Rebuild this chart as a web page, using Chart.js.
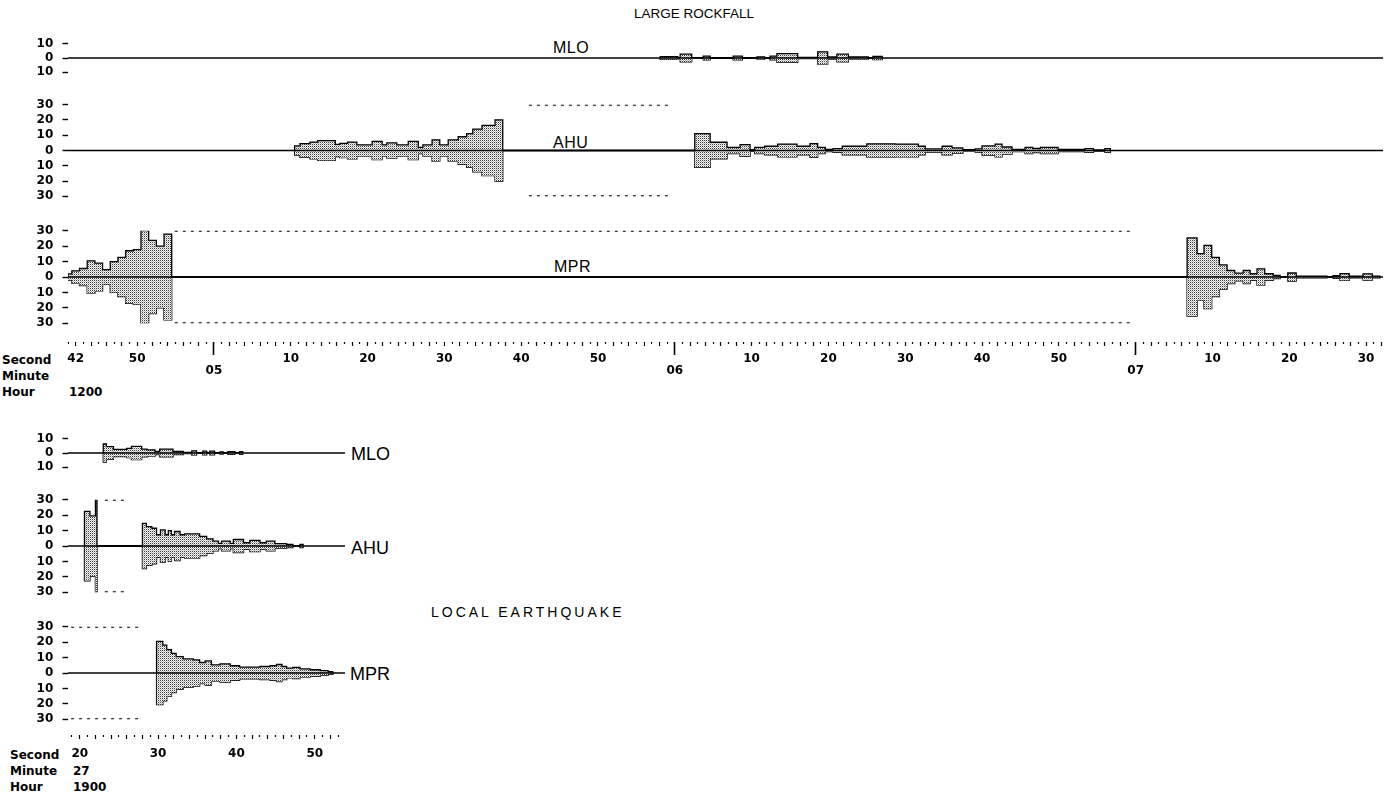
<!DOCTYPE html>
<html>
<head>
<meta charset="utf-8">
<script src="https://cdn.jsdelivr.net/npm/chart.js@4.4.1/dist/chart.umd.min.js"></script>
<style>
  body { margin: 0; background: #fff; }
  #page { position: relative; width: 1387px; height: 796px; overflow: hidden; background: #fff; }
  canvas { position: absolute; left: 0; }
  .lbl { position: absolute; white-space: nowrap; line-height: 1; color: #000; }
  .b { font: bold 12px 'DejaVu Sans', sans-serif; }
  .n { font-family: 'Liberation Sans', Arial, sans-serif; }
</style>
</head>
<body>
<div id="page">
  <div class="lbl n" style="left:634px;top:7px;font-size:13.5px">LARGE ROCKFALL</div>
  <div class="lbl n" style="left:553px;top:40px;font-size:16px;letter-spacing:0.5px">MLO</div>
  <div class="lbl n" style="left:553px;top:135px;font-size:16px;letter-spacing:0.5px">AHU</div>
  <div class="lbl n" style="left:554px;top:259px;font-size:16px;letter-spacing:0.5px">MPR</div>
  <div class="lbl b" style="left:2px;top:353px">Second</div>
  <div class="lbl b" style="left:2px;top:369px">Minute</div>
  <div class="lbl b" style="left:2px;top:385px">Hour</div>
  <div class="lbl b" style="left:69px;top:385px">1200</div>

  <div class="lbl n" style="left:351px;top:445px;font-size:18px">MLO</div>
  <div class="lbl n" style="left:351px;top:539px;font-size:18px">AHU</div>
  <div class="lbl n" style="left:350px;top:665px;font-size:18px">MPR</div>
  <div class="lbl n" style="left:431px;top:605px;font-size:14px;letter-spacing:3px">LOCAL EARTHQUAKE</div>
  <div class="lbl b" style="left:10px;top:748px">Second</div>
  <div class="lbl b" style="left:10px;top:764px">Minute</div>
  <div class="lbl b" style="left:10px;top:780px">Hour</div>
  <div class="lbl b" style="left:73px;top:764px">27</div>
  <div class="lbl b" style="left:73px;top:780px">1900</div>
</div>
<script>
// time in seconds after 12:04:00 (top) and after 19:27:00 (bottom)
const topRange = [41, 212.2];
const botRange = [18.5, 53.85];

// large rockfall envelopes (half amplitude, mirrored about zero); value holds until next time
const mloTopT = [118.1, 120.4, 120.7, 122.2, 123.7, 124.6, 127.6, 128.8, 130.7, 131.7, 132.4, 133.3, 136.0, 138.6, 139.9, 141.1, 142.6, 145.2, 145.8, 147.0];
const mloTopA = [1, 0.3, 2.7, 0.3, 1.3, 0, 1.3, 0, 0.8, 0, 1.3, 3, 0.5, 4.3, 0.7, 2.7, 0.8, 0, 1.2, 0];

const ahuTopT = [70.5, 71.2, 72.5, 73.5, 75.8, 76.4, 77.4, 78.6, 80.6, 81.9, 82.5, 83.8, 85.3, 86.6, 87.2, 88.4, 89.4, 90.5, 91.8, 92.9, 93.7, 94.9, 95.5, 96.6, 97.6,
  122.6, 124.6, 126.8, 128.5, 129.8, 130.4, 131.7, 133.4, 135.9, 137.6, 138.6, 139.6, 140.6, 141.8, 145.0, 148.7, 151.7, 152.6, 154.8, 156.1, 157.5, 159.1, 160.0,
  161.7, 162.6, 163.9, 165.6, 166.6, 167.6, 169.9, 173.4, 174.5, 176.0, 176.7];
const ahuTopA = [3, 4.5, 5.5, 6.5, 4, 4.7, 5.5, 3.7, 6, 3.7, 5, 3.7, 6, 2, 3.7, 7, 3.7, 7, 9, 11, 14, 16.5, 16.5, 20, 0,
  11, 5.4, 2, 3.8, 0.5, 2, 2.8, 4.2, 2.8, 4.5, 2, 0.7, 1.2, 2.8, 4.4, 4.2, 2.8, 1, 2.8, 1.7, 0.6, 1, 3,
  4.2, 2.3, 0.8, 2, 1.3, 2, 0.7, 1.2, 0.4, 1.2, 0];
const ahuTopClip = [101.0, 119.6];

const mprTopT = [41.0, 41.5, 42.5, 43.5, 44.5, 45.5, 46.5, 47.5, 48.5, 49.5, 50.5, 51.5, 52.5, 53.5, 54.5,
  186.7, 188.0, 188.9, 189.9, 190.9, 191.9, 192.9, 194.0, 194.9, 195.8, 196.8, 197.9, 198.8, 199.8, 200.9, 204.9, 205.7, 206.6, 207.8, 209.6, 210.8, 211.8];
const mprTopA = [2, 4, 5.5, 10.5, 9, 4.8, 10, 12.7, 17, 17.8, 30, 23.7, 20, 27.8, 0,
  25.3, 15.2, 20.5, 12.7, 7.8, 4.2, 2.5, 4.2, 2.1, 5.3, 2.1, 1, 0.3, 2.6, 0.6, 0.2, 0.8, 2.2, 0.5, 2, 0.6, 0];
const mprTopClip = [54.9, 179.8];

// local earthquake envelopes
const mloBotT = [23.0, 23.4, 24.3, 26.0, 26.6, 27.9, 28.6, 29.6, 30.2, 31.9, 33.2, 34.3, 34.9, 35.7, 36.2, 36.6, 37.2, 37.9, 38.3, 38.9, 39.8, 40.4, 40.8];
const mloBotA = [6.3, 4.4, 2.5, 3.3, 4.7, 2.7, 2.2, 1.1, 2.7, 1.1, 0.5, 1.5, 0.3, 1.3, 0.3, 1.3, 0.3, 0.8, 0.3, 0.9, 0.3, 0.9, 0];

const ahuBotT = [20.6, 21.3, 22.0, 22.2, 28.0, 28.5, 29.2, 29.8, 30.3, 30.9, 31.3, 31.7, 32.1, 32.8, 33.4, 35.3, 36.2, 37.0, 37.7, 38.1,
  39.2, 39.6, 40.9, 41.7, 43.0, 43.8, 44.9, 46.4, 47.2, 48.1, 48.5];
const ahuBotA = [22.5, 19.5, 30, 0, 14.6, 12.5, 11.5, 7.3, 10.4, 7.3, 10, 7.3, 9.4, 7.3, 7.9, 6.2, 4.6, 3.1, 1.7, 3.1,
  1.7, 4.2, 2.1, 3.7, 2.1, 3.1, 1.5, 1, 0.3, 1, 0];
const ahuBotClip = [23.2, 25.7];

const mprBotT = [29.8, 30.6, 31.1, 31.7, 32.3, 33.2, 34.5, 35.3, 36.0, 36.8, 37.9, 39.2, 40.4, 43.0, 44.3, 45.1, 45.8, 46.4, 47.2, 48.1, 49.4, 50.7, 51.3, 51.7, 52.3];
const mprBotA = [20.5, 18, 15.2, 12.7, 10.6, 9.1, 8.5, 6.8, 7.8, 5.3, 5.9, 4.7, 3.8, 4.2, 4.7, 5.5, 4.2, 3.2, 3.6, 2.7, 2.1, 1.5, 1.5, 0.8, 0];
const mprBotClip = [18.9, 27.7];

// axis ticks and labels
const yTicks10 = [-10, -5, 0, 5, 10];
const yTicks30 = [-30, -25, -20, -15, -10, -5, 0, 5, 10, 15, 20, 25, 30];
const topLabelT = [42, 50, 60, 70, 80, 90, 100, 110, 120, 130, 140, 150, 160, 170, 180, 190, 200, 210];
const topLabelS = ['42', '50', '05', '10', '20', '30', '40', '50', '06', '10', '20', '30', '40', '50', '07', '10', '20', '30'];
const topMinutes = [60, 120, 180];
const botLabelT = [20, 30, 40, 50];
const botLabelS = ['20', '30', '40', '50'];
const botMinutes = [];

const tickFont = "'DejaVu Sans', sans-serif";
const page = document.getElementById('page');

const stipple = (() => {
  const c = document.createElement('canvas');
  c.width = 2; c.height = 2;
  const g = c.getContext('2d');
  g.fillStyle = '#f6f6f6'; g.fillRect(0, 0, 2, 2);
  g.fillStyle = '#3c3c3c'; g.fillRect(0, 0, 1, 1);
  g.fillStyle = '#b4b4b4'; g.fillRect(1, 1, 1, 1);
  return g.createPattern(c, 'repeat');
})();

function addCanvas(top, w, h) {
  const cv = document.createElement('canvas');
  cv.width = w; cv.height = h;
  cv.style.top = top + 'px';
  cv.style.width = w + 'px'; cv.style.height = h + 'px';
  page.appendChild(cv);
  return cv;
}

function envelope(t, a, sign) {
  const pts = [{x: t[0], y: 0}];
  t.forEach((x, i) => pts.push({x: x, y: sign * a[i]}));
  return pts;
}

function clipLines(c) {
  if (!c) return [];
  return [30, -30].map(v => ({
    data: [{x: c[0], y: v}, {x: c[1], y: v}],
    borderColor: '#000', borderWidth: 2, borderDash: [3, 5], pointRadius: 0, fill: false, order: 1
  }));
}

// chart area spans -lim..lim; 10px padding above and below
function traceChart(areaTop, areaBottom, w, right, range, lim, ticks, t, a, clip) {
  const cv = addCanvas(areaTop - 10, w, areaBottom - areaTop + 20);
  new Chart(cv, {
    type: 'line',
    data: {
      datasets: [
        {data: envelope(t, a, 1), stepped: 'before', borderColor: '#000', borderWidth: 1.3, pointRadius: 0,
         fill: '+1', backgroundColor: stipple, order: 2},
        {data: envelope(t, a, -1), stepped: 'before', borderColor: '#000', borderWidth: 1.3, pointRadius: 0,
         fill: false, order: 2},
        {data: [{x: range[0], y: 0}, {x: range[1], y: 0}], borderColor: '#000', borderWidth: 1.6,
         pointRadius: 0, fill: false, order: 0}
      ].concat(clipLines(clip))
    },
    options: {
      responsive: false, animation: false, events: [], devicePixelRatio: 1,
      layout: {padding: {top: 10, bottom: 10, left: 0, right: w - right}},
      plugins: {legend: {display: false}, tooltip: {enabled: false}},
      scales: {
        x: {type: 'linear', display: false, min: range[0], max: range[1]},
        y: {
          min: -lim, max: lim,
          afterFit(s) { s.width = 68; },
          afterBuildTicks(s) { s.ticks = ticks.map(v => ({value: v})); },
          border: {display: false},
          grid: {
            drawOnChartArea: false, tickLength: 10, tickColor: '#000', tickWidth: 1.4,
            tickBorderDash: c => (c.tick && c.tick.value % 10 === 0) ? [5.5, 4.5] : [2, 8],
            tickBorderDashOffset: c => (c.tick && c.tick.value % 10 === 0) ? 5.5 : 4
          },
          ticks: {
            padding: 4.7, color: '#000',
            font: {family: tickFont, size: 12, weight: 'bold', lineHeight: 1},
            callback: v => v % 10 === 0 ? String(Math.abs(v)) : ''
          }
        }
      }
    }
  });
}

function axisChart(tickTop, w, right, range, labT, labS, minutes, pad) {
  const cv = addCanvas(tickTop - 2, w, 40);
  const ticks = [];
  for (let s = Math.ceil(range[0]); s <= range[1]; s++) ticks.push(s);
  const isMin = c => c.tick && minutes.indexOf(c.tick.value) >= 0;
  new Chart(cv, {
    type: 'line',
    data: {datasets: []},
    options: {
      responsive: false, animation: false, events: [], devicePixelRatio: 1,
      layout: {padding: {top: 0, bottom: 0, left: 68, right: w - right}},
      plugins: {legend: {display: false}, tooltip: {enabled: false}},
      scales: {
        x: {
          type: 'linear', min: range[0], max: range[1],
          afterFit(s) { s.height = 38; },
          afterBuildTicks(s) { s.ticks = ticks.map(v => ({value: v})); },
          border: {display: false},
          grid: {
            drawOnChartArea: false, tickLength: 13, tickColor: '#000',
            tickWidth: c => isMin(c) ? 1.6 : 1.2,
            tickBorderDash: c => isMin(c) ? [] : (c.tick && c.tick.value % 2 === 0 ? [4, 20] : [2, 20])
          },
          ticks: {
            autoSkip: false, maxRotation: 0, minRotation: 0, padding: pad, color: '#000',
            font: c => ({family: tickFont, size: 12, weight: 'bold', lineHeight: isMin(c) ? '36px' : 1}),
            callback: v => { const i = labT.indexOf(v); return i < 0 ? '' : labS[i]; }
          }
        },
        y: {display: false, min: 0, max: 1}
      }
    }
  });
}

// LARGE ROCKFALL
traceChart(43, 73, 1387, 1383, topRange, 10, yTicks10, mloTopT, mloTopA, null);
traceChart(104, 197, 1387, 1383, topRange, 30, yTicks30, ahuTopT, ahuTopA, ahuTopClip);
traceChart(230, 324, 1387, 1383, topRange, 30, yTicks30, mprTopT, mprTopA, mprTopClip);
axisChart(342, 1387, 1383, topRange, topLabelT, topLabelS, topMinutes, -2.5);

// LOCAL EARTHQUAKE
traceChart(438, 468, 350, 345, botRange, 10, yTicks10, mloBotT, mloBotA, null);
traceChart(499, 593, 350, 345, botRange, 30, yTicks30, ahuBotT, ahuBotA, ahuBotClip);
traceChart(626, 720, 350, 345, botRange, 30, yTicks30, mprBotT, mprBotA, mprBotClip);
axisChart(735, 350, 345, botRange, botLabelT, botLabelS, botMinutes, -0.5);
</script>
</body>
</html>
